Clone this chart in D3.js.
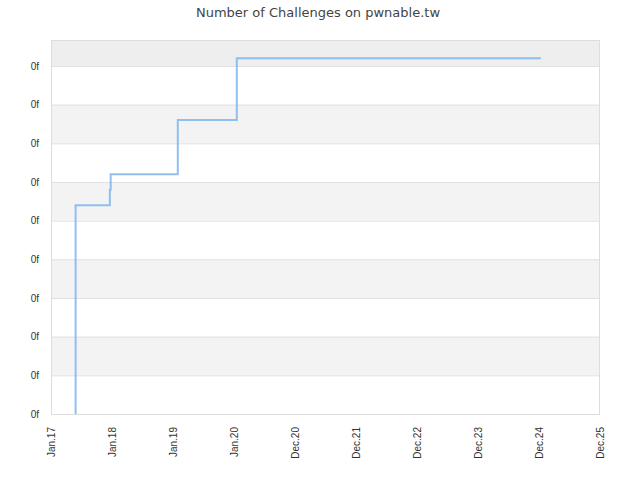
<!DOCTYPE html>
<html>
  <head>
    <meta charset="utf-8">
    <title>Number of Challenges on pwnable.tw</title>
    <style>
      body { margin: 0; background: #fff; }
      svg { font-family: "DejaVu Sans", sans-serif; }
      .tick text { fill: #333; font-size: 10px; }
    </style>
  </head>
  <body>
    <svg width="640" height="480"></svg>

    <script src="https://d3js.org/d3.v7.min.js"></script>
    <script>
      // Data
      const dates = ['2017-05-27', '2017-05-27', '2017-12-16', '2017-12-21', '2019-01-23', '2020-01-08', '2024-12-15'];
      const counts = [0, 27, 29, 31, 38, 46, 46];
      const xLabels = ['Jan.17', 'Jan.18', 'Jan.19', 'Jan.20', 'Dec.20', 'Dec.21', 'Dec.22', 'Dec.23', 'Dec.24', 'Dec.25'];
      const yTicks = [0, 5, 10, 15, 20, 25, 30, 35, 40, 45];
      const yMax = 48.36;

      const width = 640;
      const height = 480;
      const margin = { top: 40, right: 40, bottom: 66, left: 51 };

      const svg = d3.select('svg');

      const parse = d3.timeParse('%Y-%m-%d');
      const data = dates.map((d, i) => ({ date: parse(d), value: counts[i] }));

      const t0 = parse('2017-01-01');
      const t1 = parse('2025-12-01');
      const x = d3.scaleTime()
        .domain([t0, t1])
        .range([margin.left, width - margin.right]);

      const y = d3.scaleLinear()
        .domain([0, yMax])
        .range([height - margin.bottom, margin.top]);

      // alternating bands
      const bands = yTicks.map((v, i) => ({ from: v, to: Math.min(v + 5, yMax), i }));
      svg.append('g')
        .selectAll('rect')
        .data(bands.filter(b => b.i % 2 === 1))
        .join('rect')
        .attr('x', margin.left)
        .attr('width', width - margin.right - margin.left)
        .attr('y', d => y(d.to))
        .attr('height', d => y(d.from) - y(d.to))
        .attr('fill', d => d.to === yMax ? '#eeeeee' : '#f3f3f3');

      // grid lines + y labels
      const yAxis = svg.append('g')
        .attr('transform', `translate(${margin.left},0)`)
        .call(d3.axisLeft(y)
          .tickValues(yTicks)
          .tickSize(-(width - margin.right - margin.left))
          .tickPadding(12)
          .tickFormat(() => '0f'));
      yAxis.select('.domain').remove();
      yAxis.selectAll('.tick line').attr('stroke', '#e0e0e0');

      // x axis labels
      const xTicks = d3.range(xLabels.length).map(i => new Date(+t0 + i * (t1 - t0) / (xLabels.length - 1)));
      const xAxis = svg.append('g')
        .attr('transform', `translate(0,${height - margin.bottom})`)
        .call(d3.axisBottom(x)
          .tickValues(xTicks)
          .tickSize(0)
          .tickFormat((d, i) => xLabels[i]));
      xAxis.select('.domain').remove();
      xAxis.selectAll('.tick text')
        .attr('text-anchor', 'end')
        .attr('transform', 'rotate(-90)')
        .attr('x', -13)
        .attr('y', 0)
        .attr('dy', '0.35em');

      // plot frame
      svg.append('rect')
        .attr('x', margin.left + 0.5)
        .attr('y', margin.top + 0.5)
        .attr('width', width - margin.right - margin.left - 1)
        .attr('height', height - margin.bottom - margin.top)
        .attr('fill', 'none')
        .attr('stroke', '#dddddd');

      // step line
      const line = d3.line()
        .x(d => x(d.date))
        .y(d => y(d.value))
        .curve(d3.curveStepAfter);

      svg.append('path')
        .datum(data)
        .attr('fill', 'none')
        .attr('stroke', '#7cb5ec')
        .attr('stroke-opacity', 0.85)
        .attr('stroke-width', 2)
        .attr('d', line);

      // title
      svg.append('text')
        .attr('x', 318)
        .attr('y', 17)
        .attr('text-anchor', 'middle')
        .attr('fill', '#444')
        .style('font-size', '13px')
        .text('Number of Challenges on pwnable.tw');
    </script>
  </body>
</html>
